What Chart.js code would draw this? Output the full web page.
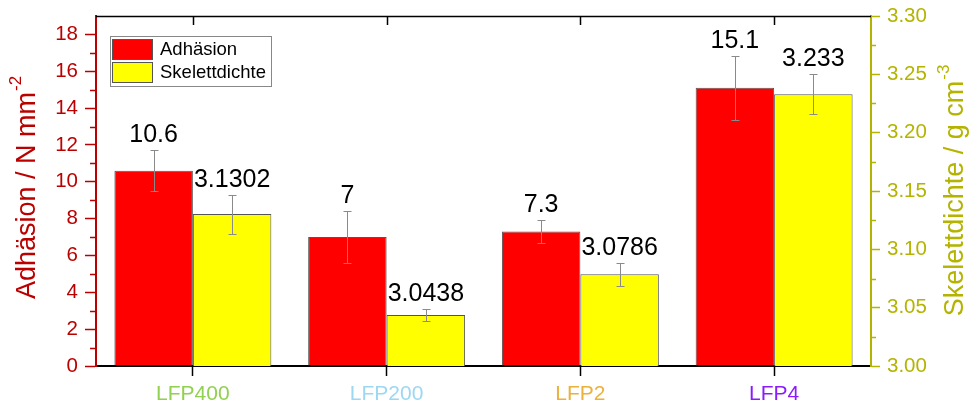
<!DOCTYPE html>
<html>
<head>
<meta charset="utf-8">
<script src="https://cdn.jsdelivr.net/npm/chart.js@4.4.1/dist/chart.umd.min.js"></script>
<style>
  body { margin: 0; background: #fff; }
  canvas { display: block; }
</style>
</head>
<body>
<canvas id="adhChart" width="969" height="409"></canvas>
<script>
// values
const samples = ["LFP400", "LFP200", "LFP2", "LFP4"];
const sampleColors = ["#92D050", "#9DD8F2", "#EBB13C", "#8B1BFF"];
const adhesion = [10.6, 7, 7.3, 15.1];
const adhesionErr = [1.1, 1.4, 0.6, 1.72];
const density = [3.1302, 3.0438, 3.0786, 3.233];
const densityErr = [0.0167, 0.005, 0.0097, 0.017];
const leftTicks = [0, 2, 4, 6, 8, 10, 12, 14, 16, 18];
const rightTicks = [3.00, 3.05, 3.10, 3.15, 3.20, 3.25, 3.30];

const FONT = "'Liberation Sans', Arial, sans-serif";
const RED_AXIS = "#BB0000";
const OLIVE_AXIS = "#B4B400";

function titleText(ctx, cx, cy, main, sup, color) {
    ctx.save();
    ctx.translate(cx, cy);
    ctx.rotate(-Math.PI / 2);
    ctx.fillStyle = color;
    ctx.textBaseline = "middle";
    ctx.textAlign = "left";
    ctx.font = "27px " + FONT;
    const w1 = ctx.measureText(main).width;
    ctx.font = "17px " + FONT;
    const w2 = ctx.measureText(sup).width;
    const x0 = -(w1 + w2) / 2;
    ctx.font = "27px " + FONT;
    ctx.fillText(main, x0, 0);
    ctx.font = "17px " + FONT;
    ctx.fillText(sup, x0 + w1 + 1, -12);
    ctx.restore();
}

function noPad(s) {
    s.paddingTop = 0; s.paddingBottom = 0;
    s.paddingLeft = 0; s.paddingRight = 0;
}

const extras = {
    id: "extras",
    afterDatasetsDraw(chart) {
        const ctx = chart.ctx;
        const area = chart.chartArea;
        const errs = [adhesionErr, densityErr];

        // error bars + value labels above them
        chart.data.datasets.forEach(function (ds, i) {
            const meta = chart.getDatasetMeta(i);
            const sc = chart.scales[ds.yAxisID];
            meta.data.forEach(function (bar, j) {
                const v = ds.data[j], e = errs[i][j];
                const yt = Math.round(sc.getPixelForValue(v + e)) + 0.5;
                const yb = Math.round(sc.getPixelForValue(v - e)) + 0.5;
                const x = Math.round(bar.x) + 0.5;
                ctx.save();
                ctx.strokeStyle = "#8a8a8a";
                ctx.lineWidth = 1;
                ctx.beginPath();
                ctx.moveTo(x, yt); ctx.lineTo(x, yb);
                ctx.moveTo(x - 4, yt); ctx.lineTo(x + 4, yt);
                ctx.moveTo(x - 4, yb); ctx.lineTo(x + 4, yb);
                ctx.stroke();

                ctx.fillStyle = "#000";
                ctx.font = "25px " + FONT;
                ctx.textAlign = "center";
                ctx.textBaseline = "middle";
                ctx.fillText(String(v), bar.x, yt - 15);
                ctx.restore();
            });
        });

        // top frame with inward ticks
        const xs = chart.scales.x;
        ctx.save();
        ctx.strokeStyle = "#000";
        ctx.lineWidth = 1.5;
        ctx.beginPath();
        ctx.moveTo(area.left, area.top + 0.5);
        ctx.lineTo(area.right, area.top + 0.5);
        samples.forEach(function (s, j) {
            const x = Math.round(xs.getPixelForValue(j)) + 0.5;
            ctx.moveTo(x, area.top);
            ctx.lineTo(x, area.top + 9);
        });
        ctx.stroke();
        ctx.restore();

        // minor ticks
        const yl = chart.scales.y, yr = chart.scales.y1;
        ctx.save();
        ctx.lineWidth = 1.5;
        ctx.strokeStyle = RED_AXIS;
        ctx.beginPath();
        for (let v = 1; v < 19; v += 2) {
            const y = Math.round(yl.getPixelForValue(v)) + 0.5;
            ctx.moveTo(area.left, y); ctx.lineTo(area.left - 6, y);
        }
        ctx.stroke();
        ctx.strokeStyle = OLIVE_AXIS;
        ctx.beginPath();
        for (let k = 0; k < 6; k++) {
            const y = Math.round(yr.getPixelForValue(3.025 + k * 0.05)) + 0.5;
            ctx.moveTo(area.right, y); ctx.lineTo(area.right + 5, y);
        }
        ctx.stroke();
        ctx.restore();

        // legend
        ctx.save();
        ctx.fillStyle = "#fff";
        ctx.fillRect(110.5, 36.5, 161, 50);
        ctx.strokeStyle = "#888";
        ctx.lineWidth = 1;
        ctx.strokeRect(110.5, 36.5, 161, 50);
        chart.data.datasets.forEach(function (ds, i) {
            const y = 39 + i * 23;
            ctx.fillStyle = ds.backgroundColor;
            ctx.fillRect(112, y, 41, 21);
            ctx.strokeStyle = "#555";
            ctx.strokeRect(112.5, y + 0.5, 40, 20);
            ctx.fillStyle = "#000";
            ctx.font = "18.5px " + FONT;
            ctx.textBaseline = "middle";
            ctx.textAlign = "left";
            ctx.fillText(ds.label, 160, y + 11);
        });
        ctx.restore();

        // axis titles
        titleText(ctx, 28, 188, "Adhäsion / N mm", "-2", RED_AXIS);
        titleText(ctx, 956, 191, "Skelettdichte / g cm", "-3", OLIVE_AXIS);
    }
};

new Chart(document.getElementById("adhChart"), {
    type: "bar",
    data: {
        labels: samples,
        datasets: [{
            label: "Adhäsion",
            data: adhesion,
            yAxisID: "y",
            backgroundColor: "#FF0000",
            borderColor: "#555555",
            borderWidth: 1
        }, {
            label: "Skelettdichte",
            data: density,
            yAxisID: "y1",
            backgroundColor: "#FFFF00",
            borderColor: "#555555",
            borderWidth: 1
        }]
    },
    options: {
        responsive: false,
        animation: false,
        devicePixelRatio: 1,
        layout: { padding: { top: 16, bottom: 0, left: 0, right: 0 } },
        datasets: {
            bar: { categoryPercentage: 0.81, barPercentage: 1.0 }
        },
        plugins: {
            legend: { display: false },
            tooltip: { enabled: false }
        },
        scales: {
            x: {
                offset: true,
                grid: { offset: false, drawOnChartArea: false, tickLength: 10, tickColor: "#000", tickWidth: 1.5 },
                border: { display: true, color: "#000", width: 2 },
                ticks: {
                    padding: 6,
                    font: { family: FONT, size: 21 },
                    color: function (c) { return sampleColors[c.index]; }
                },
                afterFit: function (s) { s.height = 43; noPad(s); }
            },
            y: {
                position: "left",
                min: 0,
                max: 19,
                grid: { drawOnChartArea: false, tickLength: 11, color: RED_AXIS, tickWidth: 1.5 },
                border: { display: true, color: RED_AXIS, width: 2 },
                afterBuildTicks: function (s) { s.ticks = leftTicks.map(function (v) { return { value: v }; }); },
                ticks: {
                    padding: 7,
                    font: { family: FONT, size: 20.5 },
                    color: RED_AXIS
                },
                afterFit: function (s) { s.width = 96; noPad(s); }
            },
            y1: {
                position: "right",
                min: 3.0,
                max: 3.3,
                grid: { drawOnChartArea: false, tickLength: 9, color: OLIVE_AXIS, tickWidth: 1.5 },
                border: { display: true, color: OLIVE_AXIS, width: 2 },
                afterBuildTicks: function (s) { s.ticks = rightTicks.map(function (v) { return { value: v }; }); },
                ticks: {
                    padding: 7,
                    font: { family: FONT, size: 20.5 },
                    color: OLIVE_AXIS,
                    callback: function (v) { return Number(v).toFixed(2); }
                },
                afterFit: function (s) { s.width = 98; noPad(s); }
            }
        }
    },
    plugins: [extras]
});
</script>
</body>
</html>
